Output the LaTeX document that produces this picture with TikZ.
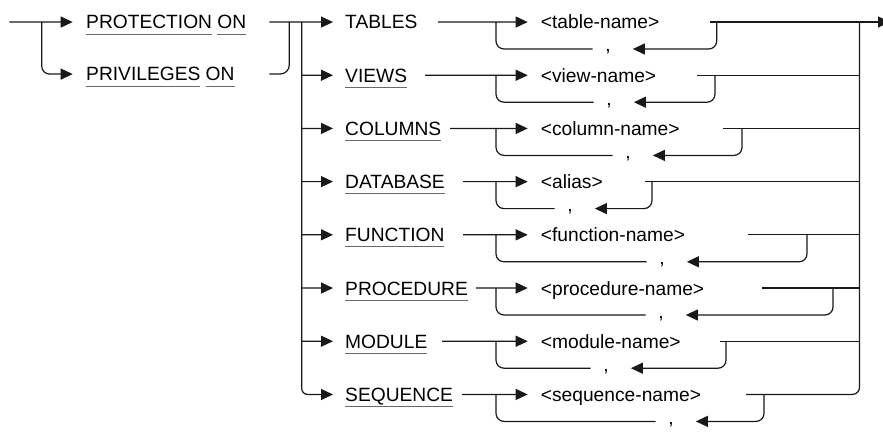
\documentclass[tikz,border=0pt]{standalone}
\usepackage{fontspec}
\setmainfont{Liberation Sans}
\usetikzlibrary{arrows.meta}
\definecolor{ln}{RGB}{25,25,25}
\definecolor{ulc}{RGB}{105,105,105}
\newcommand\ulw[1]{\setbox0\hbox{#1}\rlap{\color{ulc}\rule[-5.6pt]{\wd0}{1pt}}\box0}
\tikzset{
  rail/.style={draw=ln, line width=1.2pt},
  railarrow/.style={rail, -{Triangle[length=12pt,width=11pt]}},
  txtbase/.style={font=\fontsize{19.2pt}{22pt}\selectfont, text=black, anchor=base west,
              inner ysep=0pt, text height=13.8pt, text depth=0pt},
  kwnode/.style={txtbase, inner xsep=12pt},
  namenode/.style={txtbase, inner xsep=13pt},
  pnode/.style={txtbase, inner xsep=13.3pt},
  commanode/.style={font=\fontsize{19.2pt}{22pt}\selectfont, anchor=base, inner sep=0pt,
             text height=6pt, text depth=0pt},
}
\newcommand\synrow[8]{%
  \node[kwnode] (k#1) at (333,#2+7) {#3};
  \node[namenode] (n#1) at (527.7,#2+7) {#5};
  \node[commanode] (c#1) at (#8,#2+30) {,};
  \coordinate (ks#1) at (#4,#2);
  \coordinate (lj#1) at (496,#2);
  \coordinate (ex#1) at (#6,#2);
  \coordinate (lr#1) at (#7,#2);
  \coordinate (vj#1) at (301.7,#2);
  \coordinate (rj#1) at (859.5,#2);
  \draw[railarrow] (ks#1) -- (n#1);
  \draw[rail,rounded corners=8pt] (lj#1) |- ([xshift=-12.6pt]c#1.west);
  \draw[railarrow,rounded corners=8pt] (lr#1) |- ([xshift=22pt]c#1.east);
}
\begin{document}
\begin{tikzpicture}[x=1pt,y=-1pt]
\fill[white] (0,0) rectangle (883,433);
\useasboundingbox (0,0) rectangle (883,433);
% entry
\coordinate (s) at (9.3,22);
\coordinate (br) at (41.7,22);
\node[pnode] (kProt) at (72.7,29) {\ulw{PROTECTION}\ \ulw{ON}};
\node[pnode] (kPriv) at (72.7,81) {\ulw{PRIVILEGES}\ \ulw{ON}};
\draw[railarrow] (s) -- (kProt);
\draw[railarrow,rounded corners=8pt] (br) |- (kPriv);
\coordinate (pe) at (269.3,22);
\coordinate (pv) at (269.3,74);
\coordinate (jn) at (289.3,22);
\draw[rail,rounded corners=9pt] (pv) -| (jn);
% rows
\synrow{0}{22}{TABLES}{438}{<table-name>}{710}{716.7}{608}
\synrow{1}{75.2}{\ulw{VIEWS}}{425}{<view-name>}{697}{715}{609}
\synrow{2}{128.4}{\ulw{COLUMNS}}{450}{<column-name>}{723}{742}{628}
\synrow{3}{181.6}{\ulw{DATABASE}}{463}{<alias>}{645}{652}{570}
\synrow{4}{234.8}{\ulw{FUNCTION}}{463}{<function-name>}{748}{807}{662}
\synrow{5}{288}{\ulw{PROCEDURE}}{476}{<procedure-name>}{762}{833}{661}
\synrow{6}{341.2}{\ulw{MODULE}}{442}{<module-name>}{720}{726}{606}
\synrow{7}{394.4}{\ulw{SEQUENCE}}{462}{<sequence-name>}{746}{764}{671}
% left fan-out
\draw[railarrow] (pe) -- (k0);
\foreach \i in {1,...,6} { \draw[railarrow] (vj\i) -- (k\i); }
\draw[railarrow,rounded corners=6pt] (vj0) |- (k7);
% right fan-in
\coordinate (fin) at (890,22);
\draw[railarrow] (ex0) -- (fin);
\foreach \i in {1,...,6} { \draw[rail] (ex\i) -- (rj\i); }
\draw[rail,rounded corners=7pt] (ex7) -| (rj0);
\end{tikzpicture}
\end{document}
